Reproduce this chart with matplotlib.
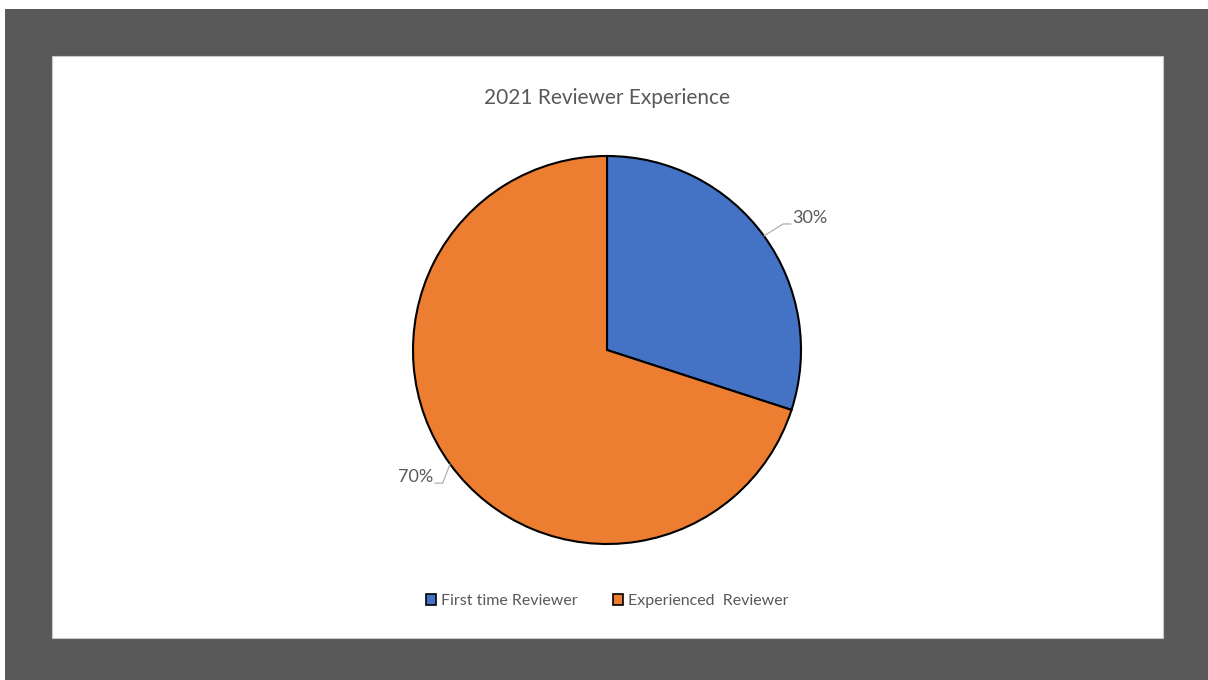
import numpy as np
import matplotlib
matplotlib.use("Agg")
import matplotlib.pyplot as plt
from matplotlib.patches import Rectangle

categories = ["First time Reviewer", "Experienced  Reviewer"]
shares = [30, 70]
pct_labels = ["30%", "70%"]
colors = ["#4472C4", "#ED7D31"]
title = "2021 Reviewer Experience"

W, H = 1208, 680
plt.rcParams["font.family"] = ["Lato", "DejaVu Sans"]
text_color = "#595959"

fig = plt.figure(figsize=(W / 100, H / 100), dpi=100)
fig.patch.set_facecolor("white")


def px_rect(x0, y0, x1, y1, **kw):
    # rectangle in pixel coords (origin top-left)
    fig.patches.append(Rectangle((x0 / W, 1 - y1 / H), (x1 - x0) / W, (y1 - y0) / H,
                                 transform=fig.transFigure, figure=fig, **kw))


# gray frame + white slide area
px_rect(5, 9, W, H, facecolor="#595959", edgecolor="none", zorder=-2)
px_rect(52, 56, 1163, 638, facecolor="white", edgecolor="#c8c8c8", linewidth=0.8, zorder=-1)

# pie axes: center (607, 350), radius 194 px
cx, cy, r = 607, 350, 194
ax = fig.add_axes([(cx - r) / W, 1 - (cy + r) / H, 2 * r / W, 2 * r / H])
ax.set_zorder(2)
wedges, _ = ax.pie(shares, colors=colors, startangle=90, counterclock=False,
                   radius=1, wedgeprops=dict(edgecolor="black", linewidth=1.5))
ax.set_xlim(-1, 1)
ax.set_ylim(-1, 1)
ax.set_aspect("equal")
ax.axis("off")

# data labels with leader lines (elbow radius / rotation tweak per label)
elbow_r = [1.116, 1.09]
elbow_rot = [-0.4, 3.0]
for w, lab, er, rot in zip(wedges, pct_labels, elbow_r, elbow_rot):
    mid = (w.theta1 + w.theta2) / 2
    ang = np.deg2rad(mid)
    x0, y0 = np.cos(ang), np.sin(ang)
    ea = np.deg2rad(mid + rot)
    ex, ey = er * np.cos(ea), er * np.sin(ea)
    side = np.sign(x0)
    tx = ex + side * 0.04
    ax.plot([x0, ex, tx], [y0, ey, ey], color="#a6a6a6", lw=0.8, clip_on=False)
    ax.text(tx + side * 0.008, ey + 0.032, lab, ha="left" if side > 0 else "right",
            va="center", fontsize=13, color=text_color)

fig.text(cx / W, 1 - 98 / H, title, ha="center", va="center", fontsize=15, color=text_color)

fig.legend(wedges, categories, loc="center", bbox_to_anchor=(cx / W, 1 - 601 / H),
           ncol=2, frameon=False, fontsize=11.5, labelcolor=text_color,
           handlelength=0.65, handleheight=0.65, handletextpad=0.3, columnspacing=2.2)
for h in fig.legends[0].legend_handles:
    h.set_linewidth(1.2)

fig.savefig("out.png", dpi=100)
